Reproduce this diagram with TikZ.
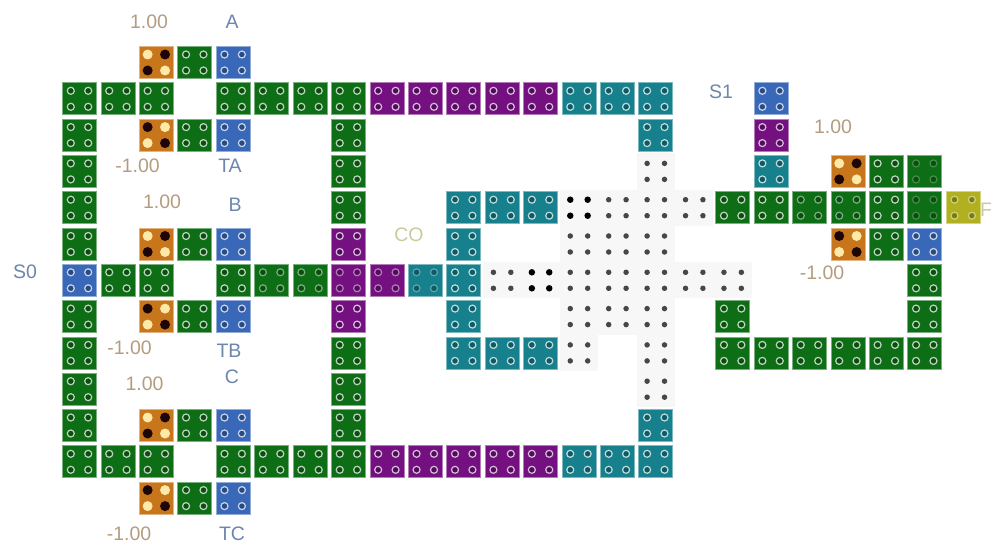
\documentclass[tikz,border=0pt]{standalone}
\usepackage{fontspec}
\setmainfont{Liberation Sans}
\definecolor{cgreen}{HTML}{0E6E16}
\definecolor{cblue}{HTML}{3A68B8}
\definecolor{cpurple}{HTML}{741080}
\definecolor{cteal}{HTML}{16808C}
\definecolor{corange}{HTML}{C8761C}
\definecolor{cyellow}{HTML}{B0B020}
\definecolor{cdot}{HTML}{F7F7F7}
\definecolor{cdotlight}{HTML}{FFE9A8}
\definecolor{cdotdark}{HTML}{1E0608}
\definecolor{tnum}{HTML}{B49C80}
\definecolor{tname}{HTML}{6E86AC}
\definecolor{tco}{HTML}{CBCB9A}
\tikzset{
  x=1pt,y=-1pt,
  blockbox/.style={minimum width=34pt,minimum height=32pt,inner sep=0pt,outer sep=0pt,draw=#1!55!white,line width=.7pt,fill=#1},
  dotbox/.style={minimum width=38.4pt,minimum height=36.3pt,inner sep=0pt,outer sep=0pt,fill=cdot},
  txt/.style={inner sep=0pt,font=\fontsize{19.5}{19.5}\selectfont,text=#1},
  hole/.style={circle,minimum size=7pt,inner sep=0pt,draw=white!\ringmix!#1,line width=1.2pt,fill=#1!70!black},
  blackdot/.style={circle,minimum size=5.5pt,inner sep=0pt,fill=black!72},
  strongdot/.style={circle,minimum size=6.5pt,inner sep=0pt,fill=black},
  bigdot/.style={circle,minimum size=10pt,inner sep=0pt,fill=#1},
}
\newcommand{\blk}[4][72]{% ring mix, colour, col, row
  \def\ringmix{#1}
  \pgfmathsetmacro{\px}{79.5+38.42*#3}\pgfmathsetmacro{\py}{62.5+36.3*#4}
  \node[blockbox=#2] (b-#3-#4) at (\px,\py) {};
  \foreach \sx in {-1,1}\foreach \sy in {-1,1}
    \node[hole=#2] at ([xshift=\sx*8.7pt,yshift=\sy*8pt]b-#3-#4.center) {};
}
\newcommand{\dts}[2]{% col, row
  \pgfmathsetmacro{\px}{79.5+38.42*#1}\pgfmathsetmacro{\py}{62.5+36.3*#2}
  \node[dotbox] (d-#1-#2) at (\px,\py) {};
}
\newcommand{\dtsfg}[3][blackdot]{%
  \foreach \sx in {-1,1}\foreach \sy in {-1,1}
    \node[#1] at ([xshift=\sx*8.7pt,yshift=\sy*8pt]d-#2-#3.center) {};
}
\begin{document}
\begin{tikzpicture}
\useasboundingbox (0,0) rectangle (992,545);
\fill[white] (0,0) rectangle (992,545);
% dot cells
\foreach \c/\r in {15/3,13/4,14/4,15/4,16/4,13/5,14/5,15/5,11/6,12/6,13/6,14/6,15/6,16/6,17/6,13/7,14/7,15/7,13/8,15/8,15/9}{\dts{\c}{\r}}
\foreach \c/\r in {15/3,14/4,15/4,16/4,13/5,14/5,15/5,11/6,13/6,14/6,15/6,16/6,17/6,13/7,14/7,15/7,13/8,15/8,15/9}{\dtsfg{\c}{\r}}
\foreach \c/\r in {13/4,12/6}{\dtsfg[strongdot]{\c}{\r}}
% green
\foreach \c/\r in {3/0,0/1,1/1,2/1,4/1,5/1,6/1,7/1,0/2,3/2,7/2,0/3,7/3,21/3,0/4,7/4,17/4,18/4,21/4,0/5,3/5,21/5,1/6,2/6,4/6,22/6,0/7,3/7,17/7,22/7,0/8,7/8,17/8,18/8,19/8,20/8,21/8,22/8,0/9,7/9,0/10,3/10,7/10,0/11,1/11,2/11,4/11,5/11,6/11,7/11,3/12}{\blk{cgreen}{\c}{\r}}
% green, dim rings
\foreach \c/\r in {19/4,20/4,5/6,6/6}{\blk[45]{cgreen}{\c}{\r}}
\foreach \c/\r in {22/3,22/4}{\blk[22]{cgreen}{\c}{\r}}
% blue
\foreach \c/\r in {4/0,18/1,4/2,4/5,22/5,0/6,4/7,4/10,4/12}{\blk{cblue}{\c}{\r}}
% purple
\foreach \c/\r in {8/1,9/1,10/1,11/1,12/1,18/2,7/5,7/7,8/11,9/11,10/11,11/11,12/11}{\blk{cpurple}{\c}{\r}}
\foreach \c/\r in {7/6,8/6}{\blk[45]{cpurple}{\c}{\r}}
% teal
\foreach \c/\r in {13/1,14/1,15/1,15/2,18/3,10/4,11/4,12/4,10/5,10/6,10/7,10/8,11/8,12/8,15/10,13/11,14/11,15/11}{\blk{cteal}{\c}{\r}}
\blk[30]{cteal}{9}{6}
% yellow
\blk[40]{cyellow}{23}{4}
% orange
\foreach \c/\r/\k in {2/0/1,2/2/0,2/5/1,2/7/0,2/10/1,2/12/0,20/3/1,20/5/0}{
  \pgfmathsetmacro{\px}{79.5+38.42*\c}\pgfmathsetmacro{\py}{62.5+36.3*\r}
  \node[blockbox=corange] (o-\c-\r) at (\px,\py) {};
  \ifnum\k=1
    \node[bigdot=cdotlight] at ([xshift=-8.7pt,yshift=8pt]o-\c-\r.center) {};
    \node[bigdot=cdotdark] at ([xshift=8.7pt,yshift=8pt]o-\c-\r.center) {};
    \node[bigdot=cdotdark] at ([xshift=-8.7pt,yshift=-8pt]o-\c-\r.center) {};
    \node[bigdot=cdotlight] at ([xshift=8.7pt,yshift=-8pt]o-\c-\r.center) {};
  \else
    \node[bigdot=cdotdark] at ([xshift=-8.7pt,yshift=8pt]o-\c-\r.center) {};
    \node[bigdot=cdotlight] at ([xshift=8.7pt,yshift=8pt]o-\c-\r.center) {};
    \node[bigdot=cdotlight] at ([xshift=-8.7pt,yshift=-8pt]o-\c-\r.center) {};
    \node[bigdot=cdotdark] at ([xshift=8.7pt,yshift=-8pt]o-\c-\r.center) {};
  \fi
}
% labels
\node[txt=tnum] (l1) at (149,22) {1.00};
\node[txt=tname] (l2) at (232,22) {A};
\node[txt=tnum] (l3) at (137.5,166) {-1.00};
\node[txt=tname] (l4) at (230,166) {TA};
\node[txt=tnum] (l5) at (162,202) {1.00};
\node[txt=tname] (l6) at (235,205) {B};
\node[txt=tname] (l7) at (25,272) {S0};
\node[txt=tnum] (l8) at (129.5,348) {-1.00};
\node[txt=tname] (l9) at (229,351) {TB};
\node[txt=tname] (l10) at (232,377) {C};
\node[txt=tnum] (l11) at (144.5,384) {1.00};
\node[txt=tnum] (l12) at (129,534) {-1.00};
\node[txt=tname] (l13) at (232,534) {TC};
\node[txt=tco] (l14) at (409,235) {CO};
\node[txt=tname] (l15) at (721,92) {S1};
\node[txt=tnum] (l16) at (833,127) {1.00};
\node[txt=tnum] (l17) at (822,273) {-1.00};
\node[txt=tco,anchor=west] (l18) at (980,210) {F};
\end{tikzpicture}
\end{document}
